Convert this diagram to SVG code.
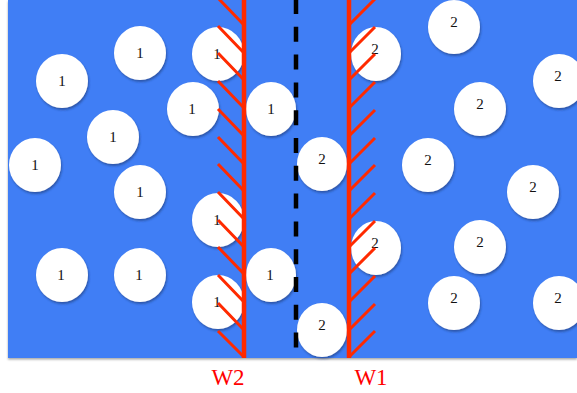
<svg xmlns="http://www.w3.org/2000/svg" width="577" height="393" viewBox="0 0 577 393">
<defs>
<filter id="sh" x="-20%" y="-20%" width="150%" height="150%">
<feDropShadow dx="1" dy="2" stdDeviation="1.2" flood-color="#1c3a78" flood-opacity="0.6"/>
</filter>
<filter id="bgsh" x="-5%" y="-5%" width="110%" height="110%">
<feDropShadow dx="0" dy="1.5" stdDeviation="1.2" flood-color="#000" flood-opacity="0.35"/>
</filter>
<style>
.p{fill:#fff;filter:url(#sh)}
.t{font-family:"Liberation Serif","Times New Roman",serif;font-size:15px;fill:#111;text-anchor:middle}
.wall{stroke:#ff2a00;stroke-width:4.5;fill:none}
.h{stroke:#ff2a00;stroke-width:3;fill:none}
.lbl{font-family:"Liberation Serif","Times New Roman",serif;font-size:23px;fill:#ff0000;text-anchor:middle}
</style>
</defs>
<rect x="0" y="0" width="577" height="393" fill="#fff"/>
<rect x="8" y="0" width="569" height="358" fill="#3f7ef5" filter="url(#bgsh)"/>
<g id="particles1">
<g id="p1a"><ellipse class="p" cx="140" cy="53" rx="26" ry="27"/><text class="t" x="140" y="58">1</text></g>
<g id="p1b"><ellipse class="p" cx="62" cy="81" rx="26" ry="27"/><text class="t" x="62" y="86">1</text></g>
<g id="p1c"><ellipse class="p" cx="113" cy="137" rx="26" ry="27"/><text class="t" x="113" y="142">1</text></g>
<g id="p1d"><ellipse class="p" cx="193" cy="109" rx="26" ry="27"/><text class="t" x="192" y="114">1</text></g>
<g id="p1e"><ellipse class="p" cx="218" cy="54" rx="26" ry="27"/><text class="t" x="217" y="59">1</text></g>
<g id="p1f"><ellipse class="p" cx="271" cy="109" rx="25" ry="27"/><text class="t" x="271" y="114">1</text></g>
<g id="p1g"><ellipse class="p" cx="35" cy="165" rx="26" ry="27"/><text class="t" x="35" y="170">1</text></g>
<g id="p1h"><ellipse class="p" cx="140" cy="192" rx="26" ry="27"/><text class="t" x="140" y="197">1</text></g>
<g id="p1i"><ellipse class="p" cx="218" cy="220" rx="26" ry="27"/><text class="t" x="217" y="225">1</text></g>
<g id="p1j"><ellipse class="p" cx="62" cy="275" rx="26" ry="27"/><text class="t" x="61" y="280">1</text></g>
<g id="p1k"><ellipse class="p" cx="140" cy="275" rx="26" ry="27"/><text class="t" x="139" y="280">1</text></g>
<g id="p1l"><ellipse class="p" cx="271" cy="275" rx="25" ry="27"/><text class="t" x="270" y="280">1</text></g>
<g id="p1m"><ellipse class="p" cx="218" cy="302" rx="26" ry="27"/><text class="t" x="217" y="307">1</text></g>
</g>
<g id="particles2">
<g id="p2a"><ellipse class="p" cx="454" cy="27" rx="26" ry="27"/><text class="t" x="454" y="27">2</text></g>
<g id="p2b"><ellipse class="p" cx="559" cy="81" rx="26" ry="27"/><text class="t" x="558" y="81">2</text></g>
<g id="p2c"><ellipse class="p" cx="376" cy="54" rx="25" ry="27"/><text class="t" x="375" y="54">2</text></g>
<g id="p2d"><ellipse class="p" cx="480" cy="109" rx="26" ry="27"/><text class="t" x="480" y="109">2</text></g>
<g id="p2e"><ellipse class="p" cx="322" cy="164" rx="25" ry="27"/><text class="t" x="322" y="164">2</text></g>
<g id="p2f"><ellipse class="p" cx="428" cy="165" rx="26" ry="27"/><text class="t" x="428" y="165">2</text></g>
<g id="p2g"><ellipse class="p" cx="533" cy="192" rx="26" ry="27"/><text class="t" x="533" y="192">2</text></g>
<g id="p2h"><ellipse class="p" cx="376" cy="248" rx="25" ry="27"/><text class="t" x="375" y="248">2</text></g>
<g id="p2i"><ellipse class="p" cx="480" cy="247" rx="26" ry="27"/><text class="t" x="480" y="247">2</text></g>
<g id="p2j"><ellipse class="p" cx="322" cy="330" rx="25" ry="27"/><text class="t" x="322" y="330">2</text></g>
<g id="p2k"><ellipse class="p" cx="454" cy="303" rx="26" ry="27"/><text class="t" x="454" y="303">2</text></g>
<g id="p2l"><ellipse class="p" cx="559" cy="303" rx="26" ry="27"/><text class="t" x="558" y="303">2</text></g>
</g>
<g id="W2">
<line class="wall" x1="244" y1="0" x2="244" y2="358"/>
<path class="h" d="M218,-2L244,25 M218,26L244,53 M218,53L244,80 M218,81L244,108 M218,109L244,136 M218,137L244,164 M218,164L244,191 M218,192L244,219 M218,220L244,247 M218,247L244,274 M218,275L244,302 M218,303L244,330 M218,331L244,357"/>
</g>
<g id="W1">
<line class="wall" x1="349" y1="0" x2="349" y2="358"/>
<path class="h" d="M349,25L375,-1 M349,53L375,27 M349,80L375,54 M349,108L375,82 M349,136L375,110 M349,164L375,138 M349,191L375,165 M349,219L375,193 M349,247L375,221 M349,274L375,248 M349,302L375,276 M349,330L375,304 M349,357L375,331"/>
</g>
<g id="connectors">
<line x1="296" y1="-1" x2="296" y2="352" stroke="#000" stroke-width="4.5" stroke-dasharray="15 12.8"/>
</g>
<text class="lbl" x="228" y="385">W2</text>
<text class="lbl" x="371" y="385">W1</text>
</svg>
